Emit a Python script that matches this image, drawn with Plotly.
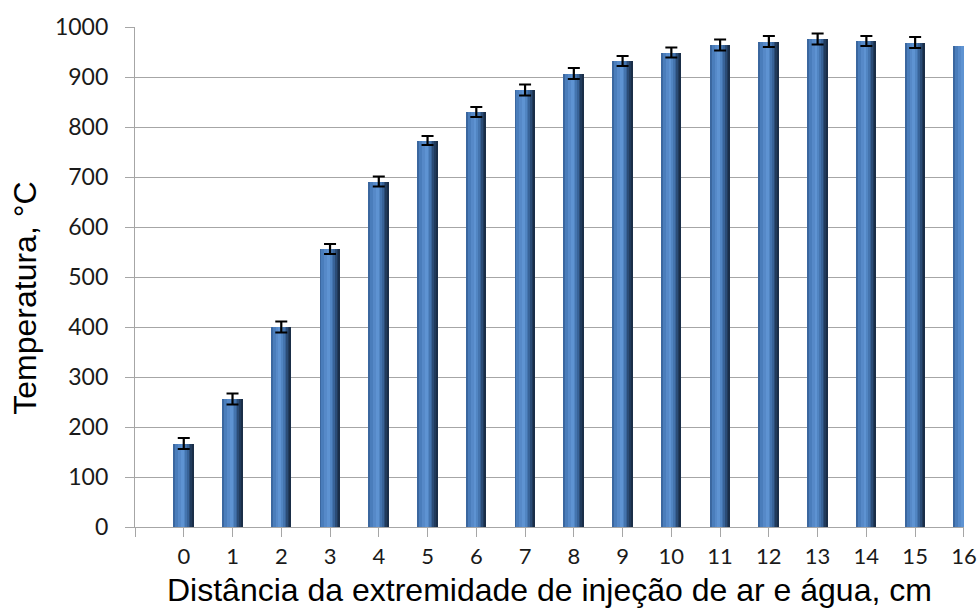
import plotly.graph_objects as go

# Distance from the air/water injection end (cm) and measured temperature (°C)
distancia = list(range(0, 17))
temperatura = [167, 256, 400, 556, 691, 773, 830, 874, 907, 932, 949, 964, 971, 976, 972, 969, 963]
desvio = [11, 11, 11, 10, 10, 9, 10, 11, 11, 10, 10, 11, 11, 11, 10, 11, 0]

tick_vals = [-1] + distancia
tick_text = [""] + [str(d) for d in distancia]

BAR_W = 0.41  # bar width in x units

# Vertical strips that give each column a rounded, cylinder-like shading
strips = [
    (0.00, 0.07, "#3B679F"),
    (0.07, 0.22, "#4A7DBB"),
    (0.22, 0.36, "#5689C8"),
    (0.36, 0.50, "#5E93D2"),
    (0.50, 0.60, "#5185C2"),
    (0.60, 0.69, "#4474AE"),
    (0.69, 0.77, "#386398"),
    (0.77, 0.85, "#2B4C76"),
    (0.85, 0.93, "#213B5C"),
    (0.93, 1.00, "#1A2E48"),
]

fig = go.Figure()
for start, end, color in strips:
    fig.add_trace(go.Bar(
        x=distancia,
        y=temperatura,
        offset=-BAR_W / 2 + start * BAR_W,
        width=(end - start) * BAR_W,
        marker=dict(color=color, line=dict(width=0)),
        showlegend=False,
        hoverinfo="skip",
    ))

# Error bars for the measured positions
n_err = 16
fig.add_trace(go.Scatter(
    x=distancia[:n_err],
    y=temperatura[:n_err],
    mode="markers",
    marker=dict(size=1, color="rgba(0,0,0,0)"),
    error_y=dict(type="data", array=desvio[:n_err], visible=True,
                 color="black", thickness=2.2, width=6),
    showlegend=False,
    hoverinfo="skip",
))

grid = "#A6A6A6"
title_font = dict(size=32, family="Liberation Sans, Arial, sans-serif", color="black")
tick_font = dict(size=22, family="Lato, sans-serif", color="#1a1a1a")

fig.update_layout(
    width=977,
    height=610,
    barmode="overlay",
    bargap=0,
    plot_bgcolor="white",
    paper_bgcolor="white",
    margin=dict(l=135, r=13, t=27, b=83),
    font=dict(family="Lato, 'Open Sans', sans-serif", color="#1a1a1a"),
    xaxis=dict(
        range=[-1, 16.002],
        automargin=False,
        tickmode="array",
        tickvals=tick_vals,
        ticktext=tick_text,
        ticks="outside",
        ticklen=9,
        tickcolor=grid,
        tickwidth=1.3,
        showline=True,
        linecolor=grid,
        linewidth=1.3,
        showgrid=False,
        zeroline=False,
        tickfont=tick_font,
        ticklabelstandoff=0,
        ticklabeloverflow="allow",
    ),
    yaxis=dict(
        range=[0, 1000],
        automargin=False,
        tickmode="array",
        tickvals=list(range(0, 1001, 100)),
        ticks="outside",
        ticklen=9,
        tickcolor=grid,
        tickwidth=1.3,
        showline=True,
        linecolor=grid,
        linewidth=1.3,
        showgrid=True,
        gridcolor=grid,
        gridwidth=1.3,
        zeroline=False,
        tickfont=dict(size=23, family="Lato, sans-serif", color="#1a1a1a"),
        ticklabelstandoff=12,
    ),
    annotations=[
        dict(text="Distância da extremidade de injeção de ar e água, cm",
             xref="paper", yref="paper", x=0.5, y=-0.126,
             xanchor="center", yanchor="middle", showarrow=False,
             font=title_font),
        dict(text="Temperatura, °C",
             xref="paper", yref="paper", x=-0.133, y=0.458,
             xanchor="center", yanchor="middle", textangle=-90,
             showarrow=False, font=title_font),
    ],
)

fig.write_html("out.html")
